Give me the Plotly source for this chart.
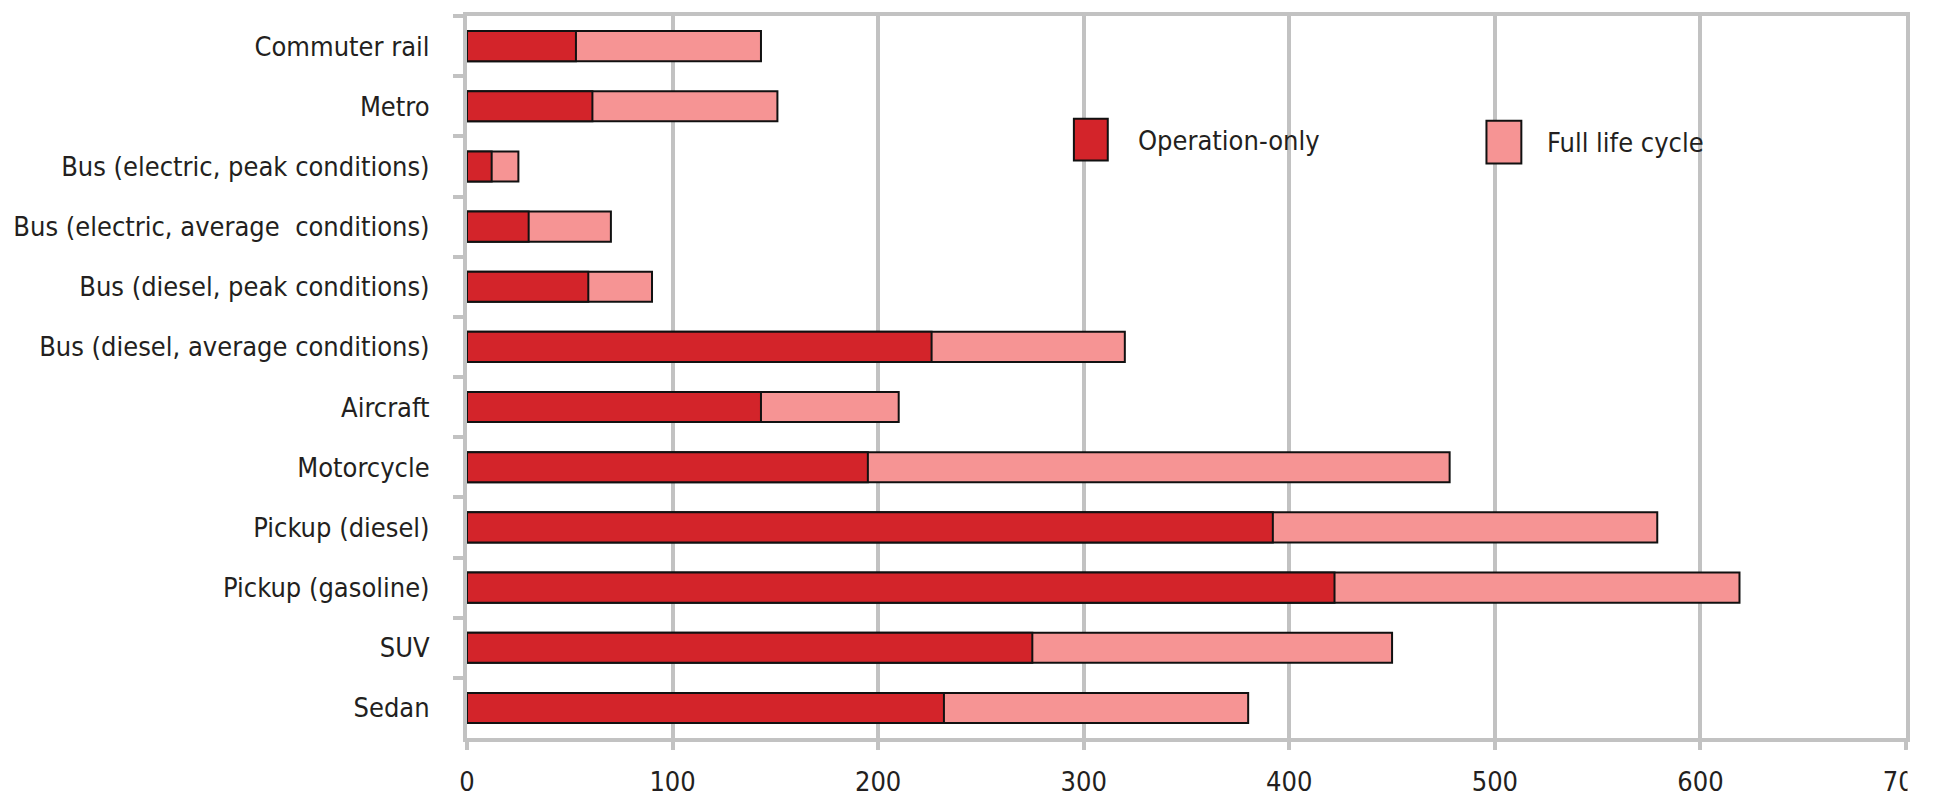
import plotly.graph_objects as go

categories = [
    "Commuter rail",
    "Metro",
    "Bus (electric, peak conditions)",
    "Bus (electric, average  conditions)",
    "Bus (diesel, peak conditions)",
    "Bus (diesel, average conditions)",
    "Aircraft",
    "Motorcycle",
    "Pickup (diesel)",
    "Pickup (gasoline)",
    "SUV",
    "Sedan",
]
operation_only = [53, 61, 12, 30, 59, 226, 143, 195, 392, 422, 275, 232]
full_life_cycle = [143, 151, 25, 70, 90, 320, 210, 478, 579, 619, 450, 380]
series_names = ["Operation-only", "Full life cycle"]
x_ticks = [0, 100, 200, 300, 400, 500, 600, 700]
x_tick_labels = ["0", "100", "200", "300", "400", "500", "600", "700"]

RED = "#D3242A"
PINK = "#F69494"
GREY = "#C2C2C2"
TXT = "#231F20"
FONT = "Liberation Sans Narrow, DejaVu Sans Condensed, Roboto, sans-serif"

fig = go.Figure()
fig.add_trace(go.Bar(
    y=categories, x=full_life_cycle, orientation="h", name=series_names[1],
    marker=dict(color=PINK, line=dict(color="#111111", width=2)),
    showlegend=False,
))
fig.add_trace(go.Bar(
    y=categories, x=operation_only, orientation="h", name=series_names[0],
    marker=dict(color=RED, line=dict(color="#111111", width=2)),
    showlegend=False,
))

# page geometry (the page body adds an 8px offset)
OFF = 8
W, H = 1933 - OFF, 801 - OFF
L, R, T, B = 467, 1911, 12, 756  # plot frame in page pixels


def px(xp):
    return (xp - L) / (R - L)


def py(yp):
    return (B - yp) / (B - T)


shapes = []
annotations = []
legend_boxes = [
    (1076, 1110, 118, 161, 1138, 140, RED),
    (1490, 1525, 120, 164, 1549, 142, PINK),
]
for name, (x0, x1, y0, y1, tx, ty, col) in zip(series_names, legend_boxes):
    shapes.append(dict(type="rect", xref="paper", yref="paper",
                       x0=px(x0), x1=px(x1), y0=py(y1), y1=py(y0),
                       fillcolor=col, line=dict(color="#111111", width=2),
                       layer="above"))
    annotations.append(dict(xref="paper", yref="paper", x=px(tx), y=py(ty),
                            text=name, showarrow=False, xanchor="left",
                            yanchor="middle",
                            font=dict(family=FONT, size=27, color=TXT)))

# clip the last tick label at the frame edge as in the reference
shapes.append(dict(type="rect", xref="paper", yref="paper",
                   x0=px(1912.5), x1=px(1990), y0=py(830), y1=py(768),
                   fillcolor="white", line=dict(width=0), layer="above"))

fig.update_layout(
    width=W, height=H,
    margin=dict(l=L - OFF, r=W - (R - OFF), t=T - OFF, b=H - (B - OFF), pad=0),
    paper_bgcolor="white", plot_bgcolor="white",
    barmode="overlay", bargap=0.5,
    showlegend=False,
    font=dict(family=FONT, size=27, color=TXT),
    shapes=shapes, annotations=annotations,
    xaxis=dict(
        range=[0, 700], tickvals=x_ticks, ticktext=x_tick_labels,
        showgrid=True, gridcolor=GREY, gridwidth=4,
        showline=True, linecolor=GREY, linewidth=4, mirror=True,
        ticks="outside", ticklen=8, tickwidth=4, tickcolor=GREY,
        ticklabelstandoff=9, ticklabeloverflow="allow",
        zeroline=False, fixedrange=True,
    ),
    yaxis=dict(
        categoryorder="array", categoryarray=categories, autorange="reversed",
        showgrid=False, showline=True, linecolor=GREY, linewidth=4, mirror=True,
        ticks="outside", ticklen=10, tickwidth=4, tickcolor=GREY,
        tickson="boundaries", ticklabelstandoff=28, zeroline=False,
    ),
)

fig.write_html("out.html")
